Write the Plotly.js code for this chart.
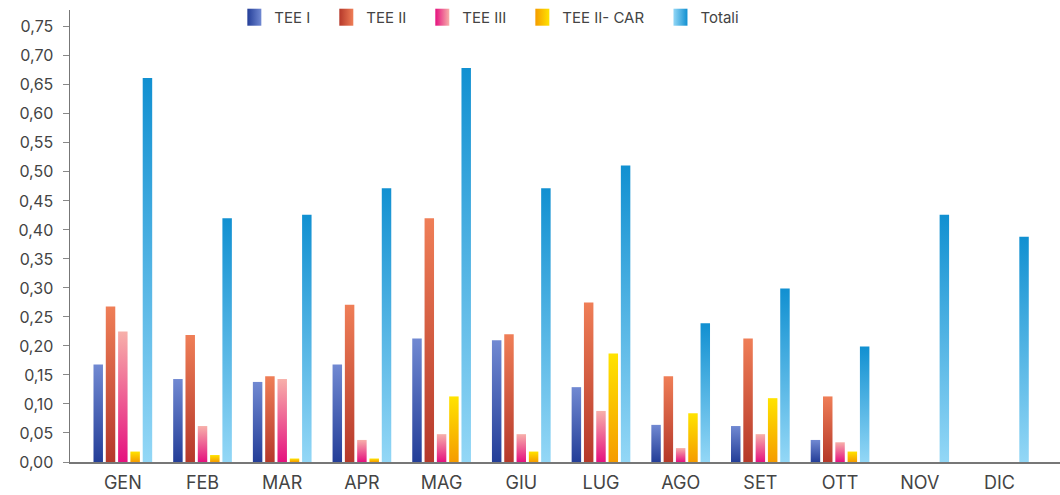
<!DOCTYPE html>
<html>
<head>
<meta charset="utf-8">
<script src="https://cdn.plot.ly/plotly-3.0.1.min.js"></script>
<style>
  html, body { margin: 0; padding: 0; background: #ffffff; }
  #chart { width: 1060px; height: 495px; }
</style>
</head>
<body>
<div id="chart"></div>
<script>
const months = ["GEN", "FEB", "MAR", "APR", "MAG", "GIU", "LUG", "AGO", "SET", "OTT", "NOV", "DIC"];
const seriesNames = ["TEE I", "TEE II", "TEE III", "TEE II- CAR", "Totali"];
const teeI    = [0.168, 0.143, 0.138, 0.168, 0.213, 0.210, 0.129, 0.064, 0.062, 0.038, null, null];
const teeII   = [0.268, 0.219, 0.148, 0.271, 0.420, 0.220, 0.275, 0.148, 0.213, 0.113, null, null];
const teeIII  = [0.225, 0.062, 0.143, 0.038, 0.048, 0.048, 0.088, 0.024, 0.048, 0.034, null, null];
const teeCAR  = [0.018, 0.012, 0.006, 0.006, 0.113, 0.018, 0.187, 0.084, 0.110, 0.018, null, null];
const totali  = [0.662, 0.420, 0.426, 0.472, 0.679, 0.472, 0.511, 0.239, 0.299, 0.199, 0.426, 0.388];
const yTicks  = [0, 0.05, 0.10, 0.15, 0.20, 0.25, 0.30, 0.35, 0.40, 0.45, 0.50, 0.55, 0.60, 0.65, 0.70, 0.75];

// gradient stops per series: [top colour, bottom colour]
const gradColors = [
  ["#7189d2", "#243e98"],
  ["#ef7e57", "#b5382a"],
  ["#f7b0aa", "#e5117f"],
  ["#ffe300", "#f59c00"],
  ["#1190d1", "#93d7f6"]
];
const solidColors = ["#3f5bb0", "#d55a3c", "#ec4a90", "#fbc200", "#45b4e6"];

const allValues = [teeI, teeII, teeIII, teeCAR, totali];
const traces = allValues.map((vals, i) => ({
  type: "bar",
  name: seriesNames[i],
  x: months,
  y: vals,
  marker: { color: solidColors[i], line: { width: 0 } },
  hoverinfo: "skip"
}));

const font = "Inter, 'Noto Sans', sans-serif";
const layout = {
  width: 1060,
  height: 495,
  margin: { l: 70, r: 0, t: 10, b: 33 },
  paper_bgcolor: "#ffffff",
  plot_bgcolor: "#ffffff",
  separators: ",.",
  barmode: "group",
  bargap: 0.228,
  bargroupgap: 0.23,
  showlegend: true,
  legend: {
    orientation: "h",
    x: 0.166, xanchor: "left",
    y: 1.02, yanchor: "top",
    font: { family: font, size: 15, color: "#444" },
    bgcolor: "rgba(0,0,0,0)",
    traceorder: "normal"
  },
  xaxis: {
    type: "category",
    range: [-0.663, 11.76],
    showgrid: false,
    zeroline: false,
    showline: true,
    linecolor: "#777",
    linewidth: 1.5,
    ticks: "",
    tickfont: { family: font, size: 18, color: "#444" },
    ticklabelstandoff: 4
  },
  yaxis: {
    range: [0, 0.779],
    tickvals: yTicks,
    tickformat: ".2f",
    showgrid: false,
    zeroline: false,
    showline: true,
    linecolor: "#777",
    linewidth: 1.5,
    ticks: "outside",
    ticklen: 6,
    tickwidth: 1,
    tickcolor: "#888",
    tickfont: { family: font, size: 16, color: "#444" },
    ticklabelstandoff: 6
  }
};

const legendExtraGap = 11; // extra spacing between legend entries

Plotly.newPlot("chart", traces, layout, { displayModeBar: false, staticPlot: true }).then(gd => {
  const svg = gd.querySelector("svg.main-svg");
  const ns = "http://www.w3.org/2000/svg";
  let defs = svg.querySelector("defs");
  if (!defs) { defs = document.createElementNS(ns, "defs"); svg.insertBefore(defs, svg.firstChild); }
  gradColors.forEach((c, i) => {
    const g = document.createElementNS(ns, "linearGradient");
    g.setAttribute("id", "vg" + i);
    g.setAttribute("x1", "0"); g.setAttribute("y1", "0");
    g.setAttribute("x2", "0"); g.setAttribute("y2", "1");
    g.innerHTML = '<stop offset="0" stop-color="' + c[0] + '"/><stop offset="1" stop-color="' + c[1] + '"/>';
    defs.appendChild(g);
    const h = document.createElementNS(ns, "linearGradient");
    h.setAttribute("id", "hg" + i);
    h.setAttribute("x1", "0"); h.setAttribute("y1", "0");
    h.setAttribute("x2", "1"); h.setAttribute("y2", "0");
    h.innerHTML = '<stop offset="0" stop-color="' + c[1] + '"/><stop offset="1" stop-color="' + c[0] + '"/>';
    defs.appendChild(h);
  });
  gd.querySelectorAll(".barlayer .trace.bars").forEach((t, i) => {
    t.querySelectorAll(".point path").forEach(p => { p.style.fill = "url(#vg" + i + ")"; });
  });
  gd.querySelectorAll(".legend, .legend .scrollbox, .legend .bg").forEach(el => el.removeAttribute("clip-path"));
  gd.querySelectorAll(".legend .traces").forEach((t, i) => {
    t.querySelectorAll(".legendpoints path").forEach(p => {
      p.style.fill = "url(#hg" + i + ")";
      p.style.stroke = "none";
      p.setAttribute("d", "M7,8.5H-7V-8.5H7Z");
    });
    const tr = t.getAttribute("transform") || "";
    const m = tr.match(/translate\(\s*([-\d.]+)[ ,]+([-\d.]+)\s*\)/);
    if (m) {
      const nx = parseFloat(m[1]) + i * legendExtraGap;
      t.setAttribute("transform", "translate(" + nx + "," + m[2] + ")");
    }
  });
});
</script>
</body>
</html>
